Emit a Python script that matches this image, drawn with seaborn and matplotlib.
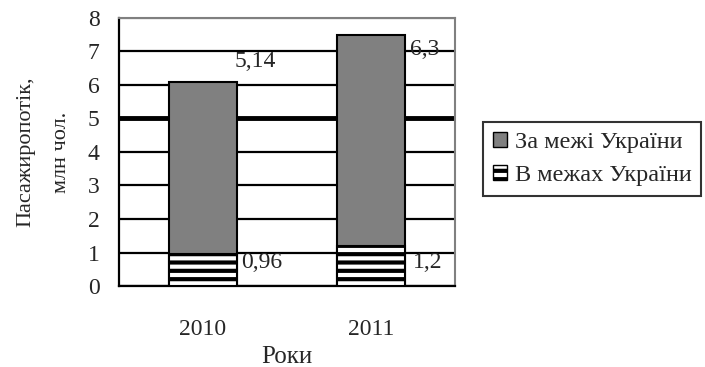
import matplotlib
matplotlib.use('Agg')
import matplotlib.pyplot as plt
import seaborn as sns
from matplotlib.patches import Patch

years = ['2010', '2011']
inside = [0.96, 1.2]
abroad = [5.14, 6.3]
inside_labels = ['0,96', '1,2']
abroad_labels = ['5,14', '6,3']
y_ticks = [0, 1, 2, 3, 4, 5, 6, 7, 8]

totals = [a + b for a, b in zip(inside, abroad)]

sns.set_style('white')
plt.rcParams['font.family'] = ['Liberation Serif', 'DejaVu Serif']
plt.rcParams['hatch.linewidth'] = 3.0

fig = plt.figure(figsize=(7.05, 3.67), dpi=100)
ax = fig.add_axes([0.1688, 0.2207, 0.4766, 0.7303])

sns.barplot(x=years, y=totals, color='#808080', edgecolor='black',
            linewidth=1.5, width=0.41, saturation=1, ax=ax, zorder=3)
sns.barplot(x=years, y=inside, color='white', edgecolor='black',
            linewidth=1.5, width=0.41, saturation=1, ax=ax, zorder=3,
            hatch='--')

ax.set_ylim(0, 8)
ax.set_xlim(-0.5, 1.5)
ax.set_yticks(y_ticks)
ax.yaxis.grid(True, color='black', linewidth=1.6, zorder=0)
ax.set_axisbelow(True)
for val, gl in zip(y_ticks, ax.get_ygridlines()):
    if val == 5:
        gl.set_linewidth(3.5)
    if val == 8:
        gl.set_color('#808080')

for side in ['top', 'right']:
    ax.spines[side].set_color('#808080')
    ax.spines[side].set_linewidth(1.5)
for side in ['left', 'bottom']:
    ax.spines[side].set_color('black')
    ax.spines[side].set_linewidth(1.6)

ax.set_xticks([-0.5, 0.5, 1.5], minor=True)
ax.tick_params(axis='x', which='major', length=0, pad=24, labelsize=17)
ax.tick_params(axis='x', which='minor', length=7, width=1.5, color='black', direction='out')
ax.tick_params(axis='y', length=8, width=1.5, color='black', direction='out', pad=6, labelsize=17)

# value labels
for i, lab in enumerate(abroad_labels):
    ax.text([0.31, 1.32][i], [6.69, 7.07][i], lab, ha='center', va='center', fontsize=17)
for i, lab in enumerate(inside_labels):
    ax.text([0.35, 1.34][i], 0.69, lab, ha='center', va='center', fontsize=17)

ax.set_xlabel('Роки', fontsize=18, labelpad=4)
ax.set_ylabel('Пасажиропотік,\nмлн чол.', fontsize=16, labelpad=12, linespacing=2.2)

handles = [Patch(facecolor='#808080', edgecolor='black', label='За межі України'),
           Patch(facecolor='white', edgecolor='black', hatch='--', label='В межах України')]
leg = fig.legend(handles=handles, loc='upper left', bbox_to_anchor=(0.685, 0.668),
                 fontsize=17.5, frameon=True, fancybox=False, handlelength=0.6,
                 handleheight=0.6, handletextpad=0.3, borderpad=0.4, labelspacing=0.5,
                 borderaxespad=0)
leg.get_frame().set_edgecolor('black')
leg.get_frame().set_linewidth(1.5)

fig.savefig('out.png', dpi=100)
